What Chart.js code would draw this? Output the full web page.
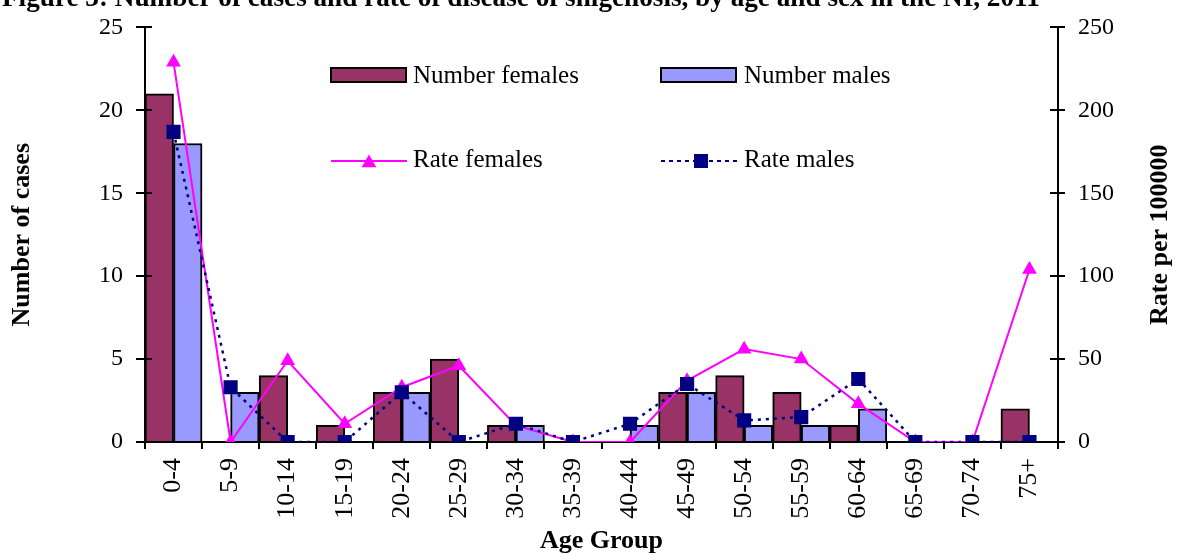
<!DOCTYPE html>
<html>
<head>
<meta charset="utf-8">
<script src="https://cdn.jsdelivr.net/npm/chart.js@4/dist/chart.umd.min.js"></script>
<style>
  html, body { margin: 0; padding: 0; background: #fff; }
  #wrap { width: 1177px; height: 554px; position: relative; }
</style>
</head>
<body>
<div id="wrap"><canvas id="c" width="1177" height="554"></canvas></div>
<script>
const categories = ['0-4','5-9','10-14','15-19','20-24','25-29','30-34','35-39','40-44','45-49','50-54','55-59','60-64','65-69','70-74','75+'];
const femaleCases = [21, 0, 4, 1, 3, 5, 1, 0, 0, 3, 4, 3, 1, 0, 0, 2];
const maleCases   = [18, 3, 0, 0, 3, 0, 1, 0, 1, 3, 1, 1, 2, 0, 0, 0];
const femaleRate  = [229, 0, 49, 11, 33, 46, 10, 0, 0, 37, 56, 50, 23, 0, 0, 104];
const maleRate    = [187, 33, 0, 0, 30, 0, 11, 0, 11, 35, 13, 15, 38, 0, 0, 0];
const casesTicks = [0, 5, 10, 15, 20, 25];
const rateTicks = [0, 50, 100, 150, 200, 250];

const titleText = 'Figure 3: Number of cases and rate of disease of shigellosis, by age and sex in the NI, 2011';
const leftTitle = 'Number of cases';
const rightTitle = 'Rate per 100000';
const xTitle = 'Age Group';
const legendLabels = ['Number females', 'Number males', 'Rate females', 'Rate males'];

const SERIF = '"Liberation Serif", "Times New Roman", "DejaVu Serif", serif';
const C_F = '#993366', C_M = '#9999FF', C_RF = '#FF00FF', C_RM = '#000080';

const extras = {
  id: 'extras',
  afterDraw(chart) {
    const ctx = chart.ctx;
    const ca = chart.chartArea;
    ctx.save();
    // inner tick halves
    ctx.strokeStyle = '#000';
    ctx.lineWidth = 2;
    const y = chart.scales.y, y1 = chart.scales.y1;
    y.ticks.forEach((t, i) => {
      const py = Math.round(y.getPixelForTick(i));
      ctx.beginPath(); ctx.moveTo(ca.left, py); ctx.lineTo(ca.left + 7, py); ctx.stroke();
    });
    y1.ticks.forEach((t, i) => {
      const py = Math.round(y1.getPixelForTick(i));
      ctx.beginPath(); ctx.moveTo(ca.right - 8, py); ctx.lineTo(ca.right, py); ctx.stroke();
    });
    // title (cut off at top)
    ctx.fillStyle = '#000';
    ctx.font = 'bold 100px ' + SERIF;
    const w100 = ctx.measureText(titleText).width;
    const fs = 100 * (1038 / w100);
    ctx.font = 'bold ' + fs.toFixed(2) + 'px ' + SERIF;
    ctx.textAlign = 'left';
    ctx.textBaseline = 'alphabetic';
    ctx.fillText(titleText, 2, 6);
    // right axis title, reading bottom to top
    ctx.save();
    ctx.translate(1160, (ca.top + ca.bottom) / 2);
    ctx.rotate(-Math.PI / 2);
    ctx.font = 'bold 26px ' + SERIF;
    ctx.textAlign = 'center';
    ctx.textBaseline = 'middle';
    ctx.fillText(rightTitle, 0, 0);
    ctx.restore();
    // legend
    ctx.font = '25px ' + SERIF;
    ctx.textAlign = 'left';
    ctx.textBaseline = 'middle';
    // Number females
    ctx.fillStyle = C_F; ctx.fillRect(331, 68, 75, 14);
    ctx.strokeStyle = '#000'; ctx.lineWidth = 2; ctx.strokeRect(331, 68, 75, 14);
    ctx.fillStyle = '#000'; ctx.fillText(legendLabels[0], 413, 76);
    // Number males
    ctx.fillStyle = C_M; ctx.fillRect(661, 68, 75, 14);
    ctx.strokeRect(661, 68, 75, 14);
    ctx.fillStyle = '#000'; ctx.fillText(legendLabels[1], 744, 76);
    // Rate females
    ctx.strokeStyle = C_RF; ctx.lineWidth = 2;
    ctx.beginPath(); ctx.moveTo(331, 161); ctx.lineTo(407, 161); ctx.stroke();
    ctx.fillStyle = C_RF;
    ctx.beginPath();
    const r = 8.5, cx = 369, cy = 163;
    ctx.moveTo(cx, cy - r);
    ctx.lineTo(cx + r * Math.sin(2 * Math.PI / 3), cy - r * Math.cos(2 * Math.PI / 3));
    ctx.lineTo(cx + r * Math.sin(4 * Math.PI / 3), cy - r * Math.cos(4 * Math.PI / 3));
    ctx.closePath(); ctx.fill();
    ctx.fillStyle = '#000'; ctx.fillText(legendLabels[2], 413, 160);
    // Rate males
    ctx.strokeStyle = C_RM; ctx.lineWidth = 2; ctx.setLineDash([4, 4]);
    ctx.beginPath(); ctx.moveTo(661, 161); ctx.lineTo(737, 161); ctx.stroke();
    ctx.setLineDash([]);
    ctx.fillStyle = C_RM; ctx.fillRect(694, 154, 14, 14);
    ctx.fillStyle = '#000'; ctx.fillText(legendLabels[3], 744, 160);
    ctx.restore();
  }
};

new Chart(document.getElementById('c'), {
  type: 'bar',
  data: {
    labels: categories,
    datasets: [
      { type: 'line', label: legendLabels[3], data: maleRate, yAxisID: 'y1', order: 0,
        borderColor: C_RM, borderWidth: 2.5, borderDash: [3, 5], backgroundColor: C_RM,
        pointStyle: 'rect', pointRadius: 10, pointBorderWidth: 0, pointBackgroundColor: C_RM, tension: 0 },
      { type: 'line', label: legendLabels[2], data: femaleRate, yAxisID: 'y1', order: 1,
        borderColor: C_RF, borderWidth: 2, backgroundColor: C_RF,
        pointStyle: 'triangle', pointRadius: 8.5, pointBorderWidth: 0, pointBackgroundColor: C_RF, tension: 0 },
      { label: legendLabels[0], data: femaleCases, yAxisID: 'y', order: 2,
        backgroundColor: C_F, borderColor: '#000', borderWidth: 2,
        barPercentage: 1, categoryPercentage: 1 },
      { label: legendLabels[1], data: maleCases, yAxisID: 'y', order: 3,
        backgroundColor: C_M, borderColor: '#000', borderWidth: 2,
        barPercentage: 1, categoryPercentage: 1 }
    ]
  },
  options: {
    responsive: false,
    animation: false,
    events: [],
    layout: { padding: { left: 0, right: 0, top: 23, bottom: 0 } },
    plugins: { legend: { display: false }, tooltip: { enabled: false }, title: { display: false } },
    scales: {
      x: {
        offset: true,
        grid: { offset: true, drawOnChartArea: false, drawTicks: true, tickLength: 7, color: '#000', lineWidth: 2 },
        border: { color: '#000', width: 2 },
        ticks: { color: '#000', font: { family: SERIF, size: 26 }, maxRotation: 90, minRotation: 90, padding: 9, autoSkip: false },
        title: { display: true, text: xTitle, color: '#000', font: { family: SERIF, size: 26, weight: 'bold', lineHeight: 1 }, padding: { top: 0, bottom: 0 } },
        afterFit(s) { s.height = 112; }
      },
      y: {
        position: 'left', min: 0, max: 25,
        afterBuildTicks(s) { s.ticks = casesTicks.map(v => ({ value: v })); },
        grid: { drawOnChartArea: false, drawTicks: true, tickLength: 9, color: '#000', lineWidth: 2 },
        border: { color: '#000', width: 2 },
        ticks: { color: '#000', font: { family: SERIF, size: 24 }, padding: 13 },
        title: { display: true, text: leftTitle, color: '#000', font: { family: SERIF, size: 26, weight: 'bold', lineHeight: 1 }, padding: { top: 9, bottom: 0 } },
        afterFit(s) { s.width = 145; }
      },
      y1: {
        position: 'right', min: 0, max: 250,
        afterBuildTicks(s) { s.ticks = rateTicks.map(v => ({ value: v })); },
        grid: { drawOnChartArea: false, drawTicks: true, tickLength: 7, color: '#000', lineWidth: 2 },
        border: { color: '#000', width: 2 },
        ticks: { color: '#000', font: { family: SERIF, size: 24 }, padding: 13 },
        afterFit(s) { s.width = 119; }
      }
    }
  },
  plugins: [extras]
});
</script>
</body>
</html>
